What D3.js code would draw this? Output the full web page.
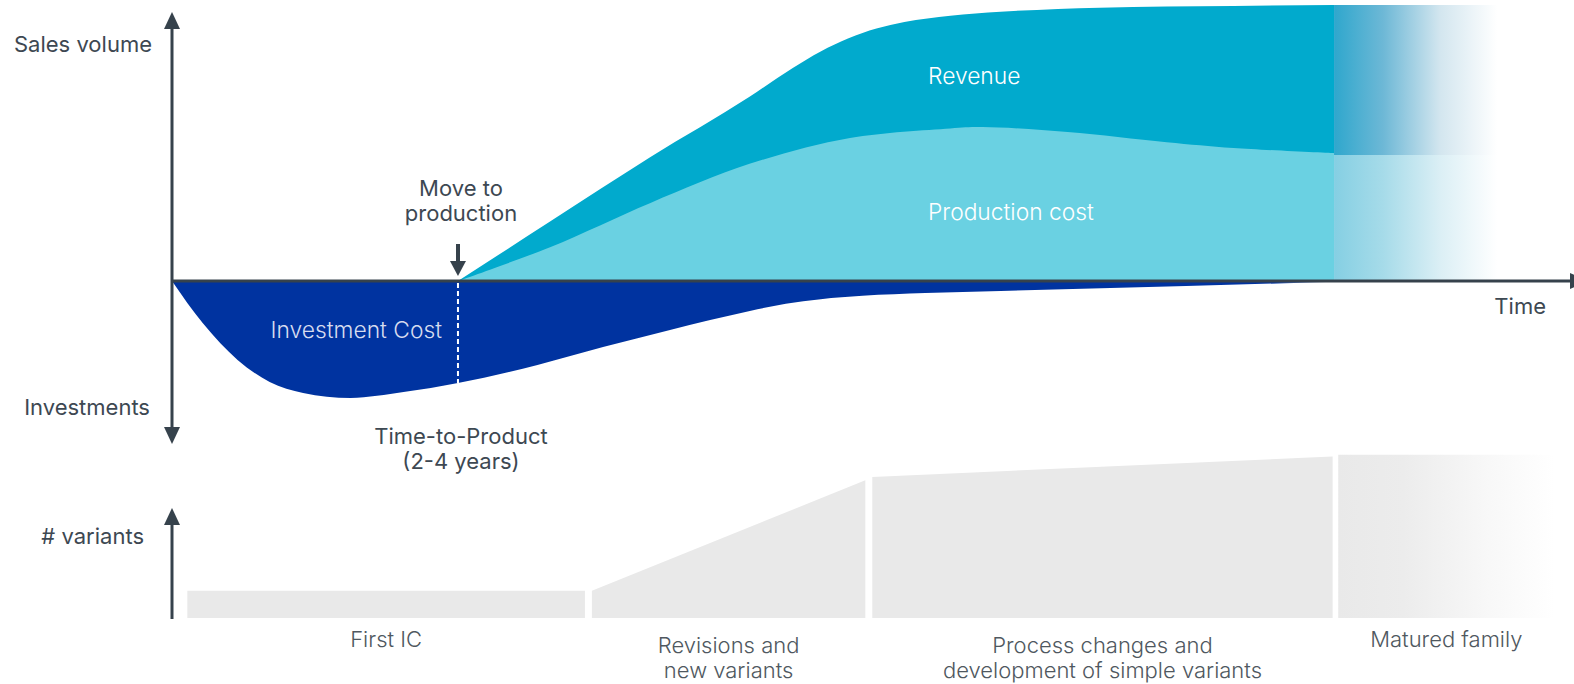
<!DOCTYPE html>
<html>
<head>
<meta charset="utf-8">
<script src="https://cdn.jsdelivr.net/npm/d3@7"></script>
<style>
  body { margin: 0; background: #fff; }
  svg text { font-family: Inter, "Open Sans", sans-serif; }
</style>
</head>
<body>
<div id="viz"></div>
<script>
// time runs 0..100 along the horizontal axis (arbitrary units)
var revenueT = [20.5, 27.1, 34.3, 41.4, 44.5, 46.5, 48.5, 50.5, 52.5, 55.8, 59.4, 66.5, 76.1, 83.3];
var revenueV = [0, 21.6, 45.1, 67.0, 77.5, 83.5, 88.3, 91.8, 94.2, 96.5, 97.9, 99.4, 100, 100.4];

var prodT = [20.5, 27.1, 34.3, 41.4, 48.6, 55.8, 58.1, 64.2, 71.3, 76.1, 83.3];
var prodV = [0, 12.3, 28.4, 42.6, 52.0, 55.5, 56, 54.2, 50.5, 48.4, 46.5];

var investT = [0, 2.2, 4.7, 7.0, 9.4, 12.8, 16.6, 20.5, 26.2, 30.9, 35.7, 38.5, 41.5, 44.0, 46.5, 49.5, 54.0, 59.4, 72.7, 83.3];
var investV = [0, -15.3, -28.7, -36.7, -40.7, -42.5, -40.4, -37.1, -30.5, -24, -17.8, -14.3, -10.8, -8.3, -6.6, -5.4, -4.4, -3.6, -1.8, -0.3];

// matured phase (faded)
var fadeT = [83.3, 95];
var fadeRevenue = [100.4, 100.4];
var fadeProd = [45.8, 45.8];

var moveToProduction = 20.5;

// variants panel
var stages = ["First IC", "Revisions and\nnew variants", "Process changes and\ndevelopment of simple variants", "Matured family"];
var stageStart = [1.1, 30.1, 50.2, 83.6];
var stageEnd = [29.6, 49.7, 83.2, 99.1];
var variantsStart = [1.6, 1.6, 8.3, 9.6];
var variantsEnd = [1.6, 8.1, 9.5, 9.6];

var W = 1574, H = 684;
var axisColor = "#36424c";
var textColor = "#3d4852";

var svg = d3.select("#viz").append("svg").attr("width", W).attr("height", H);

var x = d3.scaleLinear().domain([0, 100]).range([172, 1567]);
var y = d3.scaleLinear().domain([-60, 100]).range([446, 6]);
var yVar = d3.scaleLinear().domain([0, 10]).range([618, 448]);

var defs = svg.append("defs");
function grad(id, x1, x2, stops) {
  var g = defs.append("linearGradient").attr("id", id)
    .attr("gradientUnits", "userSpaceOnUse")
    .attr("x1", x1).attr("x2", x2).attr("y1", 0).attr("y2", 0);
  stops.forEach(function (s) {
    g.append("stop").attr("offset", s[0]).attr("stop-color", s[1]).attr("stop-opacity", s[2] == null ? 1 : s[2]);
  });
}
grad("fadeRev", x(83.3), x(95), [[0, "#2fa7cd"], [0.3, "#6db8d6"], [0.65, "#d3e6ef"], [1, "#ffffff"]]);
grad("fadeProd", x(83.3), x(95), [[0, "#85cfe3"], [0.3, "#a6dbe9"], [0.65, "#dbeff5"], [1, "#ffffff"]]);
grad("fadeInv", x(70), x(85), [[0, "#0033a0"], [0.6, "#0033a0"], [1, "#0033a0", 0]]);
grad("fadeBar", x(83.6), x(99.1), [[0, "#e9e9e9"], [0.3, "#ececec"], [0.7, "#f8f8f8"], [1, "#ffffff"]]);

function pts(ts, vs) { return ts.map(function (t, i) { return [t, vs[i]]; }); }

var revPts = pts(revenueT, revenueV);
var prodPts = pts(prodT, prodV);
var lineRev = d3.line().x(function (d) { return x(d[0]); }).y(function (d) { return y(d[1]); }).curve(d3.curveMonotoneX);

// revenue (drawn to the baseline, production cost goes on top)
svg.append("path")
  .attr("d", lineRev(revPts) + "L" + x(revenueT[revenueT.length - 1]) + "," + y(0) + "Z")
  .attr("fill", "#01aacd");

svg.append("path")
  .datum(prodPts)
  .attr("d", d3.area().x(function (d) { return x(d[0]); }).y0(y(0)).y1(function (d) { return y(d[1]); }).curve(d3.curveCatmullRom.alpha(0.5)))
  .attr("fill", "#6ad1e2");

// faded matured region
svg.append("path")
  .datum(fadeT.map(function (t, i) { return [t, fadeRevenue[i], fadeProd[i]]; }))
  .attr("d", d3.area().x(function (d) { return x(d[0]); }).y0(function (d) { return y(d[2]); }).y1(function (d) { return y(d[1]); }))
  .attr("fill", "url(#fadeRev)");
svg.append("path")
  .datum(pts(fadeT, fadeProd))
  .attr("d", d3.area().x(function (d) { return x(d[0]); }).y0(y(0)).y1(function (d) { return y(d[1]); }))
  .attr("fill", "url(#fadeProd)");

// investment
svg.append("path")
  .datum(pts(investT, investV))
  .attr("d", d3.area().x(function (d) { return x(d[0]); }).y0(y(0)).y1(function (d) { return y(d[1]); }).curve(d3.curveMonotoneX))
  .attr("fill", "url(#fadeInv)");

// dashed move-to-production line
var invAtMove = investV[investT.indexOf(moveToProduction)];
svg.append("line")
  .attr("x1", x(moveToProduction)).attr("x2", x(moveToProduction))
  .attr("y1", y(0) + 2).attr("y2", y(invAtMove))
  .attr("stroke", "#fff").attr("stroke-width", 2).attr("stroke-dasharray", "5,3");

// axes
var x0 = x(0), yz = y(0);
svg.append("line").attr("x1", x0).attr("x2", 1570).attr("y1", yz).attr("y2", yz)
  .attr("stroke", axisColor).attr("stroke-width", 3);
svg.append("line").attr("x1", x0).attr("x2", x0).attr("y1", 26).attr("y2", 430)
  .attr("stroke", axisColor).attr("stroke-width", 3);
function tri(p) { svg.append("path").attr("d", "M" + p.join("L") + "Z").attr("fill", axisColor); }
tri([[x0, 12], [x0 - 8, 29], [x0 + 8, 29]]);
tri([[x0, 444], [x0 - 8, 427], [x0 + 8, 427]]);
tri([[1588, yz], [1570, yz - 8], [1570, yz + 8]]);

// move to production arrow
var mx = x(moveToProduction);
svg.append("line").attr("x1", mx).attr("x2", mx).attr("y1", 244).attr("y2", 264)
  .attr("stroke", axisColor).attr("stroke-width", 4);
tri([[mx, 276], [mx - 8, 261], [mx + 8, 261]]);

// variants axis
svg.append("line").attr("x1", x0).attr("x2", x0).attr("y1", 522).attr("y2", 619)
  .attr("stroke", axisColor).attr("stroke-width", 3);
tri([[x0, 508], [x0 - 8, 525], [x0 + 8, 525]]);

// variant stage bars
stages.forEach(function (s, i) {
  var p = [[x(stageStart[i]), yVar(0)], [x(stageStart[i]), yVar(variantsStart[i])],
           [x(stageEnd[i]), yVar(variantsEnd[i])], [x(stageEnd[i]), yVar(0)]];
  svg.append("path").attr("d", "M" + p.join("L") + "Z")
    .attr("fill", i === 3 ? "url(#fadeBar)" : "#e9e9e9");
  var lines = s.split("\n");
  var cx = x((stageStart[i] + stageEnd[i]) / 2);
  lines.forEach(function (l, j) {
    svg.append("text").attr("x", cx).attr("y", (lines.length > 1 ? 653 : 647) + j * 25)
      .attr("text-anchor", "middle").attr("font-size", 22).attr("font-weight", 300)
      .attr("fill", "#4f5860").text(l);
  });
});

// labels
function label(t, px, py, anchor, color, size, weight) {
  svg.append("text").attr("x", px).attr("y", py).attr("text-anchor", anchor)
    .attr("fill", color).attr("font-size", size || 22).attr("font-weight", weight || 400).text(t);
}
label("Sales volume", 14, 52, "start", textColor);
label("Investments", 150, 415, "end", textColor);
label("Time", 1546, 314, "end", textColor);
label("# variants", 144, 544, "end", textColor);
label("Move to", mx + 3, 196, "middle", textColor);
label("production", mx + 3, 221, "middle", textColor);
label("Time-to-Product", mx + 3, 444, "middle", textColor);
label("(2-4 years)", mx + 3, 469, "middle", textColor);
label("Revenue", 928, 84, "start", "#ffffff", 22.8, 300);
label("Production cost", 928, 220, "start", "#ffffff", 22.8, 300);
label("Investment Cost", 442, 338, "end", "#d6dcef", 22.8, 300);
</script>
</body>
</html>
